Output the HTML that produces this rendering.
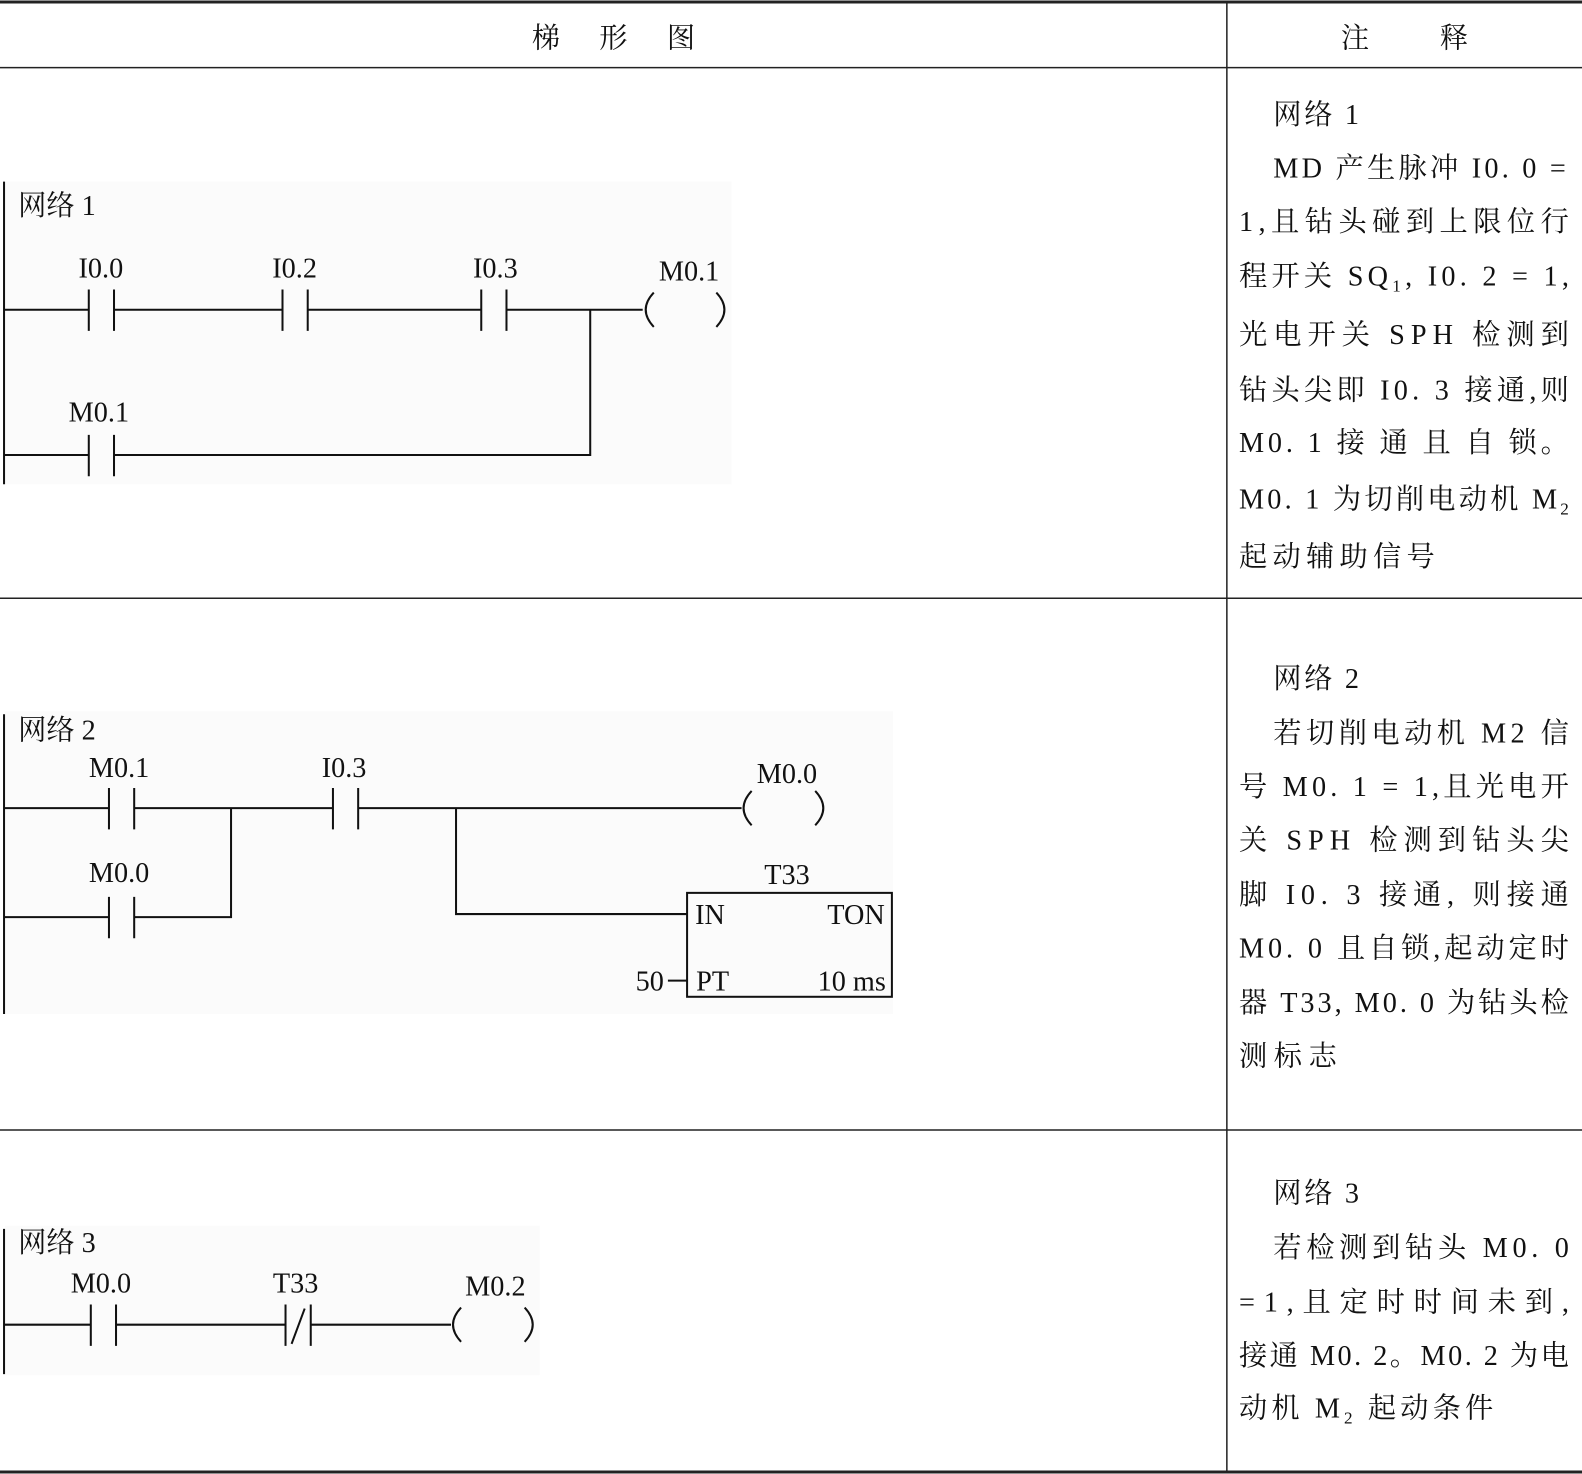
<!DOCTYPE html>
<html><head><meta charset="utf-8"><style>
html,body{margin:0;padding:0;background:#fff;width:1582px;height:1474px;overflow:hidden}
svg{display:block}
text{font-family:"Liberation Serif","Noto Serif CJK SC","Noto Sans CJK SC",serif;fill:#111}
.c{font-size:28px}
.l{font-size:28px}
</style></head><body>
<svg width="1582" height="1474" viewBox="0 0 1568 1461" preserveAspectRatio="none" xmlns="http://www.w3.org/2000/svg">
<rect x="0" y="0" width="1568" height="1461" fill="#fff"/>
<rect x="5" y="180" width="720" height="300" fill="#fbfbfb"/>
<rect x="5" y="705" width="880" height="300" fill="#fbfbfb"/>
<rect x="5" y="1215" width="530" height="148" fill="#fbfbfb"/>
<g stroke="#222" fill="none">
<line x1="0" y1="2" x2="1568" y2="2" stroke-width="3"/>
<line x1="0" y1="67" x2="1568" y2="67" stroke-width="1.5"/>
<line x1="0" y1="593" x2="1568" y2="593" stroke-width="1.5"/>
<line x1="0" y1="1120" x2="1568" y2="1120" stroke-width="1.5"/>
<line x1="0" y1="1459" x2="1568" y2="1459" stroke-width="3"/>
<line x1="1216" y1="2" x2="1216" y2="1460" stroke-width="1.5"/>
</g>
<text class="c" x="541" y="47" text-anchor="middle">梯</text>
<text class="c" x="608" y="47" text-anchor="middle">形</text>
<text class="c" x="675" y="47" text-anchor="middle">图</text>
<text class="c" x="1343" y="47" text-anchor="middle">注</text>
<text class="c" x="1441" y="47" text-anchor="middle">释</text>

<g stroke="#111" stroke-width="2" fill="none">
<line x1="4" y1="180" x2="4" y2="480"/>
<path d="M4 307H88M113 307H280M305 307H477M502 307H637"/>
<path d="M88 287V328M113 287V328M280 287V328M305 287V328M477 287V328M502 287V328"/>
<path d="M648 290Q632 307 648 324M710 290Q726 307 710 324"/>
<path d="M4 451H88M113 451H585V307"/>
<path d="M88 431V472M113 431V472"/>
<line x1="4" y1="708" x2="4" y2="1005"/>
<path d="M4 801H108M133 801H330M355 801H735"/>
<path d="M108 781V822M133 781V822M330 781V822M355 781V822"/>
<path d="M745 784Q729 801 745 818M808 784Q824 801 808 818"/>
<path d="M4 909H108M133 909H229V801"/>
<path d="M108 889V930M133 889V930"/>
<path d="M452 801V906H681"/>
<rect x="681" y="885" width="203" height="103"/>
<path d="M662 972H681"/>
<line x1="4" y1="1218" x2="4" y2="1362"/>
<path d="M4 1313H90M115 1313H283M308 1313H447"/>
<path d="M90 1293V1334M115 1293V1334M283 1293V1334M308 1293V1334M289 1332L302 1297"/>
<path d="M457 1296Q441 1313 457 1330M520 1296Q536 1313 520 1330"/>
</g>
<g class="l">
<text x="18" y="213" class="l" font-size="30">网络 1</text>
<text x="100" y="275" text-anchor="middle" class="l">I0.0</text>
<text x="292" y="275" text-anchor="middle" class="l">I0.2</text>
<text x="491" y="275" text-anchor="middle" class="l">I0.3</text>
<text x="683" y="278" text-anchor="middle" class="l">M0.1</text>
<text x="98" y="418" text-anchor="middle" class="l">M0.1</text>

<text x="18" y="733" class="l" font-size="30">网络 2</text>
<text x="118" y="770" text-anchor="middle" class="l">M0.1</text>
<text x="341" y="770" text-anchor="middle" class="l">I0.3</text>
<text x="780" y="776" text-anchor="middle" class="l">M0.0</text>
<text x="118" y="874" text-anchor="middle" class="l">M0.0</text>
<text x="780" y="876" text-anchor="middle" class="l">T33</text>
<text x="689" y="916" class="l">IN</text>
<text x="877" y="916" text-anchor="end" class="l">TON</text>
<text x="690" y="982" class="l">PT</text>
<text x="878" y="982" text-anchor="end" class="l">10 ms</text>
<text x="630" y="982" class="l">50</text>

<text x="18" y="1241" class="l" font-size="30">网络 3</text>
<text x="100" y="1281" text-anchor="middle" class="l">M0.0</text>
<text x="293" y="1281" text-anchor="middle" class="l">T33</text>
<text x="491" y="1284" text-anchor="middle" class="l">M0.2</text>
</g>

<g class="c">
<text class="c" x="1262" y="123" textLength="85" lengthAdjust="spacing">网络 1</text>
<text class="c" x="1262" y="176" textLength="290" lengthAdjust="spacing">MD 产生脉冲 I0. 0 =</text>
<text class="c" x="1228" y="229" textLength="327" lengthAdjust="spacing">1,且钻头碰到上限位行</text>
<text class="c" x="1228" y="283" textLength="327" lengthAdjust="spacing">程开关 SQ<tspan font-size="17" dy="6">1</tspan><tspan dy="-6">, I0. 2 = 1,</tspan></text>
<text class="c" x="1228" y="341" textLength="327" lengthAdjust="spacing">光电开关 SPH 检测到</text>
<text class="c" x="1228" y="396" textLength="327" lengthAdjust="spacing">钻头尖即 I0. 3 接通,则</text>
<text class="c" x="1228" y="448" textLength="327" lengthAdjust="spacing">M0. 1 接 通 且 自 锁。</text>
<text class="c" x="1228" y="504" textLength="327" lengthAdjust="spacing">M0. 1 为切削电动机 M<tspan font-size="17" dy="6">2</tspan></text>
<text class="c" x="1228" y="561" textLength="194" lengthAdjust="spacing">起动辅助信号</text>

<text class="c" x="1262" y="682" textLength="85" lengthAdjust="spacing">网络 2</text>
<text class="c" x="1262" y="736" textLength="293" lengthAdjust="spacing">若切削电动机 M2 信</text>
<text class="c" x="1228" y="789" textLength="327" lengthAdjust="spacing">号 M0. 1 = 1,且光电开</text>
<text class="c" x="1228" y="842" textLength="327" lengthAdjust="spacing">关 SPH 检测到钻头尖</text>
<text class="c" x="1228" y="896" textLength="327" lengthAdjust="spacing">脚 I0. 3 接通, 则接通</text>
<text class="c" x="1228" y="949" textLength="327" lengthAdjust="spacing">M0. 0 且自锁,起动定时</text>
<text class="c" x="1228" y="1003" textLength="327" lengthAdjust="spacing">器 T33, M0. 0 为钻头检</text>
<text class="c" x="1228" y="1056" textLength="97" lengthAdjust="spacing">测标志</text>

<text class="c" x="1262" y="1192" textLength="85" lengthAdjust="spacing">网络 3</text>
<text class="c" x="1262" y="1246" textLength="293" lengthAdjust="spacing">若检测到钻头 M0. 0</text>
<text class="c" x="1228" y="1300" textLength="327" lengthAdjust="spacing">=1,且定时时间未到,</text>
<text class="c" x="1228" y="1353" textLength="327" lengthAdjust="spacing">接通 M0. 2。M0. 2 为电</text>
<text class="c" x="1228" y="1405" textLength="252" lengthAdjust="spacing">动机 M<tspan font-size="17" dy="6">2</tspan><tspan dy="-6"> 起动条件</tspan></text>
</g>
</svg>
</body></html>
